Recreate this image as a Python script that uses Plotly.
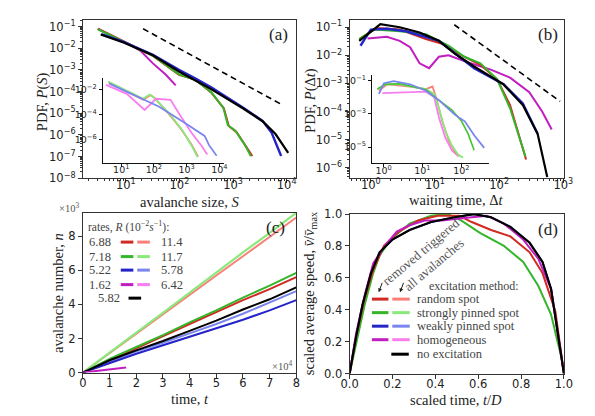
import plotly.graph_objects as go

W, H = 595, 416

# colours
RED, SALMON = '#d22a22', '#fa7f78'
GREEN, LGREEN = '#35b52a', '#8be87a'
BLUE, LBLUE = '#2424c8', '#7a86ee'
MAG, PINK = '#c01ec0', '#f87ef0'
BLACK = '#000000'

# ---- (a) avalanche size PDF, removed triggered ----
a_black_S = [3.4, 9.3, 32, 98, 390, 1550, 3550, 6200, 10700]
a_black_P = [4.3e-2, 1.8e-2, 4.7e-3, 8.5e-4, 1.3e-4, 1.66e-5, 4.3e-6, 1.1e-6, 1.5e-7]
a_blue_S = [3.5, 9.3, 32, 98, 200, 390, 1550, 3550, 5250, 7900]
a_blue_P = [4.5e-2, 1.9e-2, 5e-3, 1e-3, 4e-4, 1.6e-4, 1.8e-5, 4.5e-6, 1.26e-6, 1.07e-7]
a_red_S = [3.0, 9.3, 32, 98, 195, 390, 676, 832, 1175, 1780, 2290]
a_red_P = [7.9e-2, 2e-2, 4.4e-3, 6e-4, 3.6e-4, 9.1e-5, 1.66e-5, 2.6e-6, 1.3e-6, 2.75e-7, 1.07e-7]
a_green_S = [3.0, 9.3, 32, 98, 195, 390, 660, 800, 1100, 1700, 2150]
a_green_P = [7.5e-2, 2e-2, 4.5e-3, 6.2e-4, 3.5e-4, 9.5e-5, 1.8e-5, 2.8e-6, 1.6e-6, 3.2e-7, 1.05e-7]
a_mag_S = [3.0, 9.3, 18.6, 32, 56, 85]
a_mag_P = [7.9e-2, 2e-2, 7.8e-3, 2e-3, 6e-4, 1.95e-4]
a_ref_S = [21, 7600]
a_ref_P = [7.9e-2, 2.75e-5]

# inset (a): all avalanches
ia_lblue_S = [4.3, 47, 145, 890, 3550, 4900, 8300]
ia_lblue_P = [2.9e-2, 1.8e-3, 4.2e-4, 2.1e-5, 2e-6, 3.5e-7, 5.2e-8]
ia_lgreen_S = [4.0, 14.8, 47, 74, 102, 290, 710, 1410, 2140]
ia_lgreen_P = [4.2e-2, 7.9e-3, 1.8e-3, 3.9e-3, 2.1e-3, 1.26e-4, 6.6e-6, 3.5e-7, 4.4e-8]
ia_salmon_S = [4.0, 14.8, 47, 79, 105, 290, 710, 1410, 2240]
ia_salmon_P = [3.5e-2, 7.1e-3, 1.5e-3, 3.5e-3, 2.1e-3, 1.05e-4, 5.9e-6, 4.2e-7, 4.4e-8]
ia_pink_S = [3.4, 14.8, 52, 115, 324, 575, 1410, 2820, 4270]
ia_pink_P = [2.3e-2, 4.4e-3, 2.3e-4, 1.8e-3, 1.5e-3, 1.26e-4, 3.6e-6, 3.5e-7, 6.6e-8]

# ---- (b) waiting time PDF ----
b_black_t = [0.66, 1.41, 2.82, 5.75, 11.5, 20.4, 40.7, 74, 117, 234, 398, 562]
b_black_P = [3.3e-2, 0.129, 0.1, 6.5e-2, 3.3e-2, 1.15e-2, 4e-3, 1.8e-3, 9.3e-4, 1.7e-4, 1.6e-5, 4.6e-7]
b_blue_t = [0.69, 1.0, 1.78, 3.55, 11.5, 40.7, 117, 234, 398]
b_blue_P = [2.2e-2, 8.3e-2, 8.9e-2, 7.2e-2, 3.3e-2, 3.5e-3, 9.3e-4, 1.95e-4, 1.6e-5]
b_green_t = [0.66, 1.12, 2.82, 7.2, 16.2, 28.8, 51, 93, 148, 209, 257]
b_green_P = [3.8e-2, 8.3e-2, 7.2e-2, 5.6e-2, 2.2e-2, 8.9e-3, 5.2e-3, 1.4e-3, 1.3e-4, 1.2e-5, 2.5e-6]
b_red_t = [0.66, 1.26, 2.82, 7.2, 12.9, 28.8, 51, 93, 148, 209, 263]
b_red_P = [3.8e-2, 9.5e-2, 8.3e-2, 3.8e-2, 2.6e-2, 8.9e-3, 4.6e-3, 1.4e-3, 1.7e-4, 1.2e-5, 1.95e-6]
b_mag_t = [0.89, 1.78, 2.82, 4.1, 5.75, 8.1, 11.5, 16.2, 36, 74, 148, 295, 468, 660]
b_mag_P = [4e-2, 4.6e-2, 3.3e-2, 1.95e-2, 5.2e-3, 3.5e-3, 8.9e-3, 1e-2, 5.2e-3, 3.1e-3, 1.6e-3, 4.9e-4, 1e-4, 2.3e-5]
b_ref_t = [20, 890]
b_ref_P = [0.123, 2.3e-4]

# inset (b)
ib_lblue_t = [0.76, 1.02, 1.82, 4.8, 12.3, 26.9, 69, 123, 219, 389]
ib_lblue_P = [1.55e-2, 6.8e-2, 9.1e-2, 5.9e-2, 2.4e-2, 6.3e-3, 8.5e-4, 3.5e-4, 4.7e-5, 8.9e-6]
ib_green_t = [0.69, 1.12, 2.63, 12.3, 26.9, 57.5, 102, 151, 214]
ib_green_P = [3e-2, 5.9e-2, 6.3e-2, 2.8e-2, 6.3e-3, 1.66e-3, 3.5e-4, 5.9e-5, 6.3e-6]
ib_lgreen_t = [0.69, 1.12, 2.63, 12.3, 20, 26.9, 38.9, 57.5, 85, 112]
ib_lgreen_P = [3e-2, 5.9e-2, 5.9e-2, 3e-2, 1.55e-2, 2e-3, 9.1e-5, 1.23e-5, 3.2e-6, 2.3e-6]
ib_salmon_t = [0.76, 1.23, 4.8, 12.3, 18.2, 22.9, 32.4, 47.9, 69, 93]
ib_salmon_P = [2.4e-2, 5.9e-2, 4.3e-2, 3e-2, 4.3e-2, 7.9e-3, 3.5e-4, 2.4e-5, 5e-6, 2.8e-6]
ib_pink_t = [0.93, 3.2, 12.3, 20, 26.9, 38.9, 57.5, 85]
ib_pink_P = [1.74e-2, 1.9e-2, 2.1e-2, 1e-2, 5.4e-4, 3.7e-5, 6.3e-6, 2.7e-6]

# ---- (c) avalanche number vs time (x1e4, x1e3) ----
c_t = [0, 1, 2, 3, 4, 5, 6, 7, 8]
c_black = [0, 0.72, 1.3, 1.85, 2.45, 3.05, 3.7, 4.3, 5.0]
c_lblue = [0, 0.65, 1.25, 1.75, 2.3, 2.85, 3.45, 4.1, 4.78]
c_blue = [0, 0.55, 1.1, 1.6, 2.1, 2.6, 3.1, 3.65, 4.25]
c_green = [0, 0.8, 1.5, 2.2, 2.95, 3.65, 4.4, 5.1, 5.85]
c_red = [0, 0.72, 1.42, 2.15, 2.85, 3.55, 4.25, 4.9, 5.6]
c_lgreen = [0, 1.2, 2.35, 3.5, 4.7, 5.85, 7.05, 8.2, 9.38]
c_salmon = [0, 1.15, 2.28, 3.4, 4.55, 5.7, 6.83, 7.95, 9.1]
c_mag_t = [0, 0.8, 1.62]
c_mag = [0, 0.15, 0.3]
rates_left = ['6.88', '7.18', '5.22', '1.62']
rates_right = ['11.4', '11.7', '5.78', '6.42']
rate_black = '5.82'

# ---- (d) scaled average speed ----
d_black_u = [0, 0.03, 0.06, 0.1, 0.14, 0.2, 0.28, 0.38, 0.49, 0.58, 0.66, 0.75, 0.84, 0.9, 0.94, 0.97, 1]
d_black_v = [0, 0.23, 0.43, 0.63, 0.76, 0.84, 0.9, 0.95, 0.98, 1.0, 0.98, 0.92, 0.82, 0.7, 0.53, 0.27, 0]
d_green_u = [0, 0.03, 0.07, 0.11, 0.14, 0.19, 0.28, 0.38, 0.46, 0.52, 0.61, 0.72, 0.81, 0.88, 0.94, 0.99, 1]
d_green_v = [0, 0.19, 0.43, 0.63, 0.74, 0.84, 0.94, 0.99, 1.0, 0.96, 0.88, 0.8, 0.7, 0.55, 0.37, 0.09, 0]
d_red_u = [0, 0.03, 0.07, 0.11, 0.16, 0.23, 0.32, 0.41, 0.51, 0.57, 0.66, 0.75, 0.84, 0.9, 0.96, 1]
d_red_v = [0, 0.23, 0.47, 0.65, 0.8, 0.89, 0.96, 0.99, 0.99, 0.95, 0.9, 0.86, 0.76, 0.63, 0.39, 0]
d_mag_u = [0, 0.03, 0.07, 0.11, 0.17, 0.22, 0.28, 0.35, 0.43, 0.49, 0.57, 0.64, 0.72, 0.81, 0.88, 0.94, 1]
d_mag_v = [0, 0.25, 0.49, 0.69, 0.81, 0.89, 0.93, 0.96, 0.96, 0.97, 0.98, 0.99, 0.94, 0.84, 0.72, 0.53, 0]
methods = ['random spot', 'strongly pinned spot', 'weakly pinned spot', 'homogeneous']

TICKFONT = dict(family='DejaVu Sans', size=11.5, color='#222')
SERIF = 'Liberation Serif'
FRAME = '#333'


def px(x):
    return x / W


def py(y):
    return 1 - y / H


def sup(n):
    return '10<sup>' + str(n).replace('-', '\u2212') + '</sup>'


fig = go.Figure()


def line(x, y, color, ax='', width=2.0, dash=None, opacity=1.0):
    fig.add_trace(go.Scatter(x=x, y=y, mode='lines', xaxis='x' + ax, yaxis='y' + ax,
                             line=dict(color=color, width=width, dash=dash),
                             opacity=opacity, showlegend=False, hoverinfo='skip'))


# panel (a)
line(a_mag_S, a_mag_P, MAG)
line(a_red_S, a_red_P, RED)
line(a_green_S, a_green_P, GREEN)
line(a_blue_S, a_blue_P, BLUE, width=2.4)
line(a_black_S, a_black_P, BLACK, width=2.2)
line(a_ref_S, a_ref_P, BLACK, width=1.6, dash='6px,4px')
# inset (a)
line(ia_salmon_S, ia_salmon_P, SALMON, '5', 1.8)
line(ia_lgreen_S, ia_lgreen_P, LGREEN, '5', 1.8)
line(ia_pink_S, ia_pink_P, PINK, '5', 1.8)
line(ia_lblue_S, ia_lblue_P, LBLUE, '5', 1.8)

# panel (b)
line(b_mag_t, b_mag_P, MAG, '2')
line(b_red_t, b_red_P, RED, '2')
line(b_green_t, b_green_P, GREEN, '2')
line(b_blue_t, b_blue_P, BLUE, '2', 2.4)
line(b_black_t, b_black_P, BLACK, '2', 2.2)
line(b_ref_t, b_ref_P, BLACK, '2', 1.6, dash='6px,4px')
# inset (b)
line(ib_pink_t, ib_pink_P, PINK, '6', 1.8)
line(ib_salmon_t, ib_salmon_P, SALMON, '6', 1.8)
line(ib_lgreen_t, ib_lgreen_P, LGREEN, '6', 1.8)
line(ib_green_t, ib_green_P, '#44c436', '6', 1.6)
line(ib_lblue_t, ib_lblue_P, LBLUE, '6', 1.8)

# panel (c)
line(c_t, c_salmon, SALMON, '3')
line(c_t, c_lgreen, LGREEN, '3', 2.2)
line(c_t, c_red, RED, '3')
line(c_t, c_green, GREEN, '3')
line(c_t, c_lblue, LBLUE, '3')
line(c_t, c_blue, BLUE, '3')
line(c_t, c_black, BLACK, '3')
line(c_mag_t, c_mag, MAG, '3')

# panel (d)
line(d_black_u, d_black_v, BLUE, '4', 1.8)
line(d_green_u, d_green_v, GREEN, '4')
line(d_red_u, d_red_v, RED, '4')
line(d_mag_u, d_mag_v, MAG, '4')
line(d_black_u, d_black_v, BLACK, '4', 2.2)


def main_axis(dom, rng, log=False, **kw):
    d = dict(domain=dom, range=rng, type='log' if log else 'linear',
             showline=True, mirror=True, linecolor=FRAME, linewidth=1.2,
             ticks='outside', ticklen=4, tickcolor=FRAME, tickfont=TICKFONT,
             showgrid=False, zeroline=False)
    if log:
        d['minor'] = dict(ticks='outside', ticklen=2, tickcolor=FRAME, dtick='D1')
    d.update(kw)
    return d


def inset_axis(dom, rng, vals, **kw):
    d = dict(domain=dom, range=rng, type='log', showline=True, mirror=False,
             linecolor='#111', linewidth=1.2, ticks='outside', ticklen=3,
             tickcolor='#111', tickfont=dict(family='DejaVu Sans', size=9.5, color='#222'),
             showgrid=False, zeroline=False,
             tickvals=[10 ** v for v in vals], ticktext=[sup(v) for v in vals])
    d.update(kw)
    return d


xa = [px(68), px(288)]
xb = [px(343), px(564)]
ytop = [py(169), py(5)]

fig.update_layout(
    width=W, height=H, margin=dict(l=0, r=0, t=0, b=0),
    paper_bgcolor='white', plot_bgcolor='rgba(0,0,0,0)', showlegend=False,
    xaxis=main_axis(xa, [0.2, 4.18], True, anchor='y', ticklabelstandoff=-8,
                    tickvals=[10 ** v for v in range(1, 5)], ticktext=[sup(v) for v in range(1, 5)]),
    yaxis=main_axis(ytop, [-8, -0.69], True, anchor='x',
                    tickvals=[10 ** v for v in range(-8, 0)], ticktext=[sup(v) for v in range(-8, 0)]),
    xaxis2=main_axis(xb, [-0.33, 3.01], True, anchor='y2', ticklabelstandoff=-8,
                     tickvals=[10 ** v for v in range(0, 4)], ticktext=[sup(v) for v in range(0, 4)]),
    yaxis2=main_axis(ytop, [-6.38, -0.735], True, anchor='x2',
                     tickvals=[10 ** v for v in range(-6, 0)], ticktext=[sup(v) for v in range(-6, 0)]),
    xaxis3=main_axis(xa, [0, 8], anchor='y3', dtick=1, ticklabelstandoff=-4),
    yaxis3=main_axis([py(370), py(205)], [0, 9.36], anchor='x3', dtick=2),
    xaxis4=main_axis(xb, [0, 1], anchor='y4', dtick=0.2, tickformat='.1f', ticklabelstandoff=-4),
    yaxis4=main_axis([py(371), py(206)], [0, 1.0], anchor='x4', dtick=0.2, tickformat='.1f'),
    xaxis5=inset_axis([px(88.3), px(213)], [0.43, 4.13], [1, 2, 3, 4], anchor='y5', ticklabelstandoff=-5),
    yaxis5=inset_axis([py(152.7), py(65)], [-7.82, -1.08], [-2, -4, -6], anchor='x5'),
    xaxis6=inset_axis([px(366), px(487)], [-0.3, 2.72], [0, 1, 2], anchor='y6', ticklabelstandoff=-5),
    yaxis6=inset_axis([py(153.3), py(61.7)], [-5.97, -0.65], [-1, -3, -5], anchor='x6'),
)


def text(x, y, s, size=13, angle=0, color='#222', xanchor='center', family=SERIF):
    fig.add_annotation(x=px(x), y=py(y), xref='paper', yref='paper', text=s, showarrow=False,
                       textangle=angle, xanchor=xanchor, yanchor='middle', borderpad=0,
                       font=dict(family=family, size=size, color=color))


# axis titles
text(178, 193, 'avalanche size, <i>S</i>', 14.5)
text(27, 90, 'PDF, <i>P</i>(<i>S</i>)', 14.5, -90)
text(453, 191, 'waiting time, \u0394<i>t</i>', 14.5)
text(302, 88, 'PDF, <i>P</i>(\u0394<i>t</i>)', 14.5, -90)
text(178, 397, 'time, <i>t</i>', 14.5)
text(43, 288, 'avalanche number, <i>n</i>', 14.5, -90)
text(453, 398, 'scaled time, <i>t</i>/<i>D</i>', 14.5)
text(302, 288, 'scaled average speed, <i>v\u0304</i>/<i>v\u0304</i><sub>max</sub>', 14.5, -90)

# panel labels
text(270, 20, '(a)', 17)
text(548, 20, '(b)', 17)
text(267, 220, '(c)', 17)
text(548, 222, '(d)', 17)
text(54, 199, '\u00d710<sup>3</sup>', 10.5, color='#555')
text(273, 363, '\u00d710<sup>4</sup>', 10.5, color='#555')

# legend (c)
text(72, 219, 'rates, <i>R</i> (10<sup>\u22122</sup><i>s</i><sup>\u22121</sup>):', 11.5, xanchor='left', color='#444')
rows_c = [235, 250, 264, 279]
pairs_c = [(RED, SALMON), (GREEN, LGREEN), (BLUE, LBLUE), (MAG, PINK)]


def seg(x0, x1, y, color):
    fig.add_shape(type='line', xref='paper', yref='paper', x0=px(x0), x1=px(x1),
                  y0=py(y), y1=py(y), line=dict(color=color, width=3))


for yy, (dk, lt), l, r in zip(rows_c, pairs_c, rates_left, rates_right):
    text(73, yy, l, 12.5, xanchor='left', color='#444')
    seg(107, 120, yy, dk)
    seg(124, 137, yy, lt)
    text(147, yy, r, 12.5, xanchor='left', color='#444')
text(83, 293, rate_black, 12.5, xanchor='left', color='#444')
seg(115, 128, 293, BLACK)

# legend (d)
text(471, 280, 'excitation method:', 12, color='#444')
rows_d = [294, 308, 322, 336]
for yy, (dk, lt), m in zip(rows_d, pairs_c, methods):
    seg(366, 383, yy, dk)
    seg(387, 405, yy, lt)
    text(411, yy, m, 12.5, xanchor='left', color='#444')
seg(386, 404, 351, BLACK)
text(411, 351, 'no excitation', 12.5, xanchor='left', color='#444')
text(417, 245, 'removed triggered', 13, -40, color='#555')
text(430, 258, 'all avalanches', 13, -40, color='#555')
for tipx in (373, 395):
    fig.add_annotation(x=px(tipx), y=py(287), xref='paper', yref='paper', text='',
                       showarrow=True, ax=4, ay=-11, arrowhead=2, arrowsize=0.8,
                       arrowwidth=1, arrowcolor='#222')

fig.write_html("out.html")
